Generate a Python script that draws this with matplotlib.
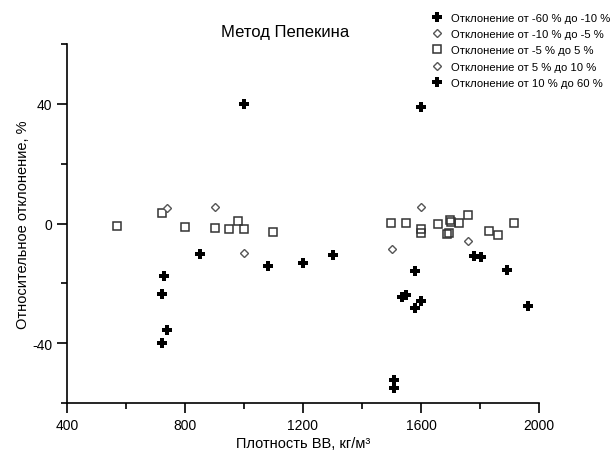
import matplotlib.pyplot as plt
from matplotlib.ticker import MultipleLocator, FixedLocator

plt.rcParams['font.family'] = ['Liberation Sans', 'DejaVu Sans']
plt.rcParams['axes.unicode_minus'] = False

# Отклонение от -60 % до -10 %
neg_big_x = [851, 1300, 1081, 1201, 730, 722, 740, 723, 1780, 1802, 1890,
             1580, 1535, 1548, 1600, 1580, 1964, 1509, 1509]
neg_big_y = [-10.3, -10.4, -14.3, -13.2, -17.6, -23.4, -35.5, -40.1, -10.9, -11.2, -15.4,
             -15.9, -24.6, -24.0, -25.9, -28.2, -27.7, -52.4, -55.1]

# Отклонение от -10 % до -5 %
neg_mid_x = [1000, 1500, 1759]
neg_mid_y = [-9.7, -8.4, -5.8]

# Отклонение от -5 % до 5 %
small_x = [570, 721, 801, 900, 950, 981, 1001, 1099, 1499, 1548, 1599, 1599,
           1659, 1698, 1701, 1730, 1760, 1687, 1696, 1829, 1860, 1915]
small_y = [-0.7, 3.4, -1.1, -1.6, -2.0, 0.9, -1.9, -2.7, 0.1, 0.1, -1.9, -3.1,
           -0.2, 1.3, 0.6, 0.2, 2.8, -3.6, -3.1, -2.5, -3.9, 0.1]

# Отклонение от 5 % до 10 %
pos_mid_x = [740, 900, 1600]
pos_mid_y = [5.3, 5.4, 5.4]

# Отклонение от 10 % до 60 %
pos_big_x = [1000, 1599]
pos_big_y = [40.1, 38.9]

labels = ["Отклонение от -60 % до -10 %",
          "Отклонение от -10 % до -5 %",
          "Отклонение от -5 % до 5 %",
          "Отклонение от 5 % до 10 %",
          "Отклонение от 10 % до 60 %"]

fig = plt.figure(figsize=(6.16, 4.52), dpi=100)
ax = fig.add_axes([67 / 616, 1 - 404 / 452, 472 / 616, 359 / 452])

ax.plot(neg_big_x, neg_big_y, 'P', ms=6.5, color='black', mew=0, ls='none', label=labels[0])
ax.plot(neg_mid_x, neg_mid_y, 'D', ms=3.6, mfc='white', mec='#555555', mew=1.0, ls='none', label=labels[1])
ax.plot(small_x, small_y, 's', ms=6, mfc='none', mec='#333333', mew=1.1, ls='none', label=labels[2])
ax.plot(pos_mid_x, pos_mid_y, 'D', ms=3.6, mfc='white', mec='#555555', mew=1.0, ls='none', label=labels[3])
ax.plot(pos_big_x, pos_big_y, 'P', ms=6.5, color='black', mew=0, ls='none', label=labels[4])

ax.set_xlim(400, 2000)
ax.set_ylim(-60, 60)
ax.xaxis.set_major_locator(MultipleLocator(400))
ax.xaxis.set_minor_locator(FixedLocator([600, 1000, 1400, 1800]))
ax.yaxis.set_major_locator(FixedLocator([-40, 0, 40]))
ax.yaxis.set_minor_locator(FixedLocator([-60, -20, 20, 60]))

for side in ['top', 'right']:
    ax.spines[side].set_visible(False)
for side in ['left', 'bottom']:
    ax.spines[side].set_linewidth(1.2)
ax.tick_params(which='major', length=7, width=1.2, labelsize=10, direction='out')
ax.tick_params(which='minor', length=4, width=1.2, direction='out')

ax.set_xlabel("Плотность ВВ, кг/м³", fontsize=10.5, labelpad=3)
ax.set_ylabel("Относительное отклонение, %", fontsize=10.5, labelpad=2)

fig.text(285 / 616, 1 - 33 / 452, "Метод Пепекина", fontsize=12, ha='center', va='center')

fig.legend(loc='upper left', bbox_to_anchor=(431 / 616, 1 - 14 / 452), frameon=False,
           fontsize=8.1, handlelength=1.0, handletextpad=0.8, labelspacing=0.55,
           borderaxespad=0, borderpad=0)

fig.savefig('out.png', dpi=100)
